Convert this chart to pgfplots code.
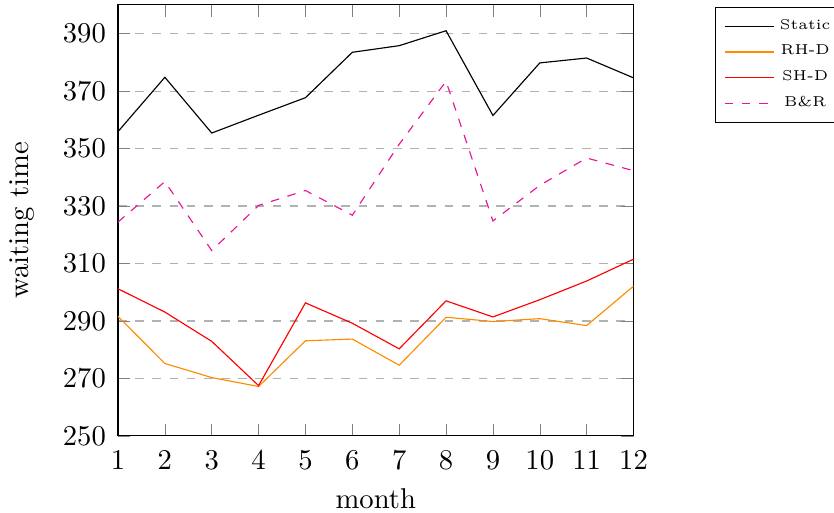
\documentclass[border=0pt]{standalone}
\usepackage{pgfplots}
\pgfplotsset{compat=1.18}
\definecolor{rhd}{RGB}{255,140,0}
\definecolor{br}{RGB}{235,20,150}
\begin{document}
\begin{tikzpicture}
\begin{axis}[
  name=ax,
  scale only axis,
  width=180pt, height=150.5pt,
  xmin=1, xmax=12, ymin=250, ymax=400,
  xtick={1,2,...,12},
  ytick={250,270,...,390},
  ymajorgrids,
  grid style={dashed, gray!60},
  xlabel={month}, ylabel={waiting time},
  xticklabel style={yshift=-1.6pt},
  yticklabel style={xshift=-0.7pt},
  ylabel style={yshift=3pt},
  legend style={at={(1.158,0.995)}, anchor=north west, font=\tiny},
  legend cell align=center,
]
\addplot[black] coordinates {(1,355.9)(2,374.8)(3,355.4)(4,361.6)(5,367.7)(6,383.5)(7,385.8)(8,391)(9,361.5)(10,379.8)(11,381.5)(12,374.6)};
\addlegendentry{Static}
\addplot[rhd] coordinates {(1,291.6)(2,275.2)(3,270.3)(4,267.2)(5,283.1)(6,283.7)(7,274.6)(8,291.3)(9,289.8)(10,290.8)(11,288.4)(12,302.1)};
\addlegendentry{RH-D}
\addplot[red] coordinates {(1,301.2)(2,293.1)(3,282.9)(4,267.5)(5,296.3)(6,289.2)(7,280.3)(8,297)(9,291.4)(10,297.4)(11,303.9)(12,311.5)};
\addlegendentry{SH-D}
\addplot[br, dashed] coordinates {(1,324.4)(2,338.5)(3,314.5)(4,330.2)(5,335.4)(6,326.8)(7,351.5)(8,373.4)(9,324.8)(10,337.2)(11,346.7)(12,342.3)};
\addlegendentry{B\&R}
\end{axis}
\pgfresetboundingbox
\path[use as bounding box] ([xshift=-41.2pt,yshift=-26.9pt]ax.south west) rectangle ([xshift=70pt,yshift=1.7pt]ax.north east);
\end{tikzpicture}
\end{document}
